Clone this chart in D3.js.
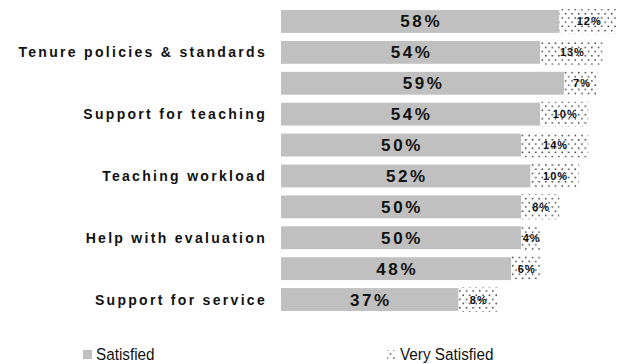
<!DOCTYPE html>
<html>
<head>
<meta charset="utf-8">
<script src="https://cdn.jsdelivr.net/npm/d3@7"></script>
<style>
  html, body { margin: 0; padding: 0; background: #fff; }
  svg { display: block; }
</style>
</head>
<body>
<svg id="chart" width="621" height="364"></svg>
<script>
// Satisfaction items; each item has two bars, the label sits beside the second one
const categories = [
  "Tenure policies & standards",
  "Support for teaching",
  "Teaching workload",
  "Help with evaluation",
  "Support for service"
];
const barsPerCategory = 2;

// Percent values, one per bar, top to bottom
const satisfied     = [58, 54, 59, 54, 50, 52, 50, 50, 48, 37];
const verySatisfied = [12, 13,  7, 10, 14, 10,  8,  4,  6,  8];

const seriesNames = ["Satisfied", "Very Satisfied"];

const rows = satisfied.map((s, i) => ({
  index: i,
  satisfied: s,
  very: verySatisfied[i],
  label: (i % barsPerCategory === barsPerCategory - 1) ? categories[Math.floor(i / barsPerCategory)] : null
}));

const svg = d3.select("#chart");
const grey = "#c0c0c0";
const font = "Liberation Sans, Arial, sans-serif";

// dotted fill used for the "Very Satisfied" series
const defs = svg.append("defs");
const pat = defs.append("pattern")
  .attr("id", "dots")
  .attr("patternUnits", "userSpaceOnUse")
  .attr("width", 6.6)
  .attr("height", 8.4);
pat.append("rect").attr("width", 6.6).attr("height", 8.4).attr("fill", "#fff");
pat.append("rect").attr("x", 0.5).attr("y", 0.5).attr("width", 1.4).attr("height", 1.4).attr("fill", "#222");
pat.append("rect").attr("x", 3.8).attr("y", 4.7).attr("width", 1.4).attr("height", 1.4).attr("fill", "#222");

const x = d3.scaleLinear().domain([0, 100]).range([281, 761]);
const y = d3.scaleBand()
  .domain(rows.map(d => d.index))
  .range([2, 319])
  .padding(0.26);

const g = svg.append("g");

// Satisfied segments
g.selectAll("rect.sat")
  .data(rows)
  .join("rect")
  .attr("class", "sat")
  .attr("x", x(0))
  .attr("y", d => y(d.index))
  .attr("width", d => x(d.satisfied) - x(0))
  .attr("height", y.bandwidth())
  .attr("fill", grey);

// Very Satisfied segments stacked after them
g.selectAll("rect.very")
  .data(rows)
  .join("rect")
  .attr("class", "very")
  .attr("x", d => x(d.satisfied))
  .attr("y", d => y(d.index) - 1)
  .attr("width", d => x(d.satisfied + d.very) - x(d.satisfied))
  .attr("height", y.bandwidth() + 2)
  .attr("fill", "url(#dots)");

// value labels
g.selectAll("text.satv")
  .data(rows)
  .join("text")
  .attr("class", "satv")
  .attr("x", d => (x(0) + x(d.satisfied)) / 2 + 1)
  .attr("y", d => y(d.index) + y.bandwidth() / 2 + 6)
  .attr("text-anchor", "middle")
  .attr("font-family", font)
  .attr("font-weight", "bold")
  .attr("font-size", 17)
  .attr("letter-spacing", 2.6)
  .attr("fill", "#111")
  .text(d => d.satisfied + "%");

g.selectAll("text.veryv")
  .data(rows)
  .join("text")
  .attr("class", "veryv")
  .attr("x", d => (x(d.satisfied) + x(d.satisfied + d.very)) / 2 + 1)
  .attr("y", d => y(d.index) + y.bandwidth() / 2 + 4)
  .attr("text-anchor", "middle")
  .attr("font-family", font)
  .attr("font-weight", "bold")
  .attr("font-size", 11)
  .attr("letter-spacing", 1)
  .attr("fill", "#111")
  .text(d => d.very + "%");

// category labels
g.selectAll("text.cat")
  .data(rows.filter(d => d.label))
  .join("text")
  .attr("class", "cat")
  .attr("x", 267)
  .attr("y", d => y(d.index) + y.bandwidth() / 2 + 5)
  .attr("text-anchor", "end")
  .attr("font-family", font)
  .attr("font-weight", "bold")
  .attr("font-size", 14)
  .attr("letter-spacing", 2.3)
  .attr("fill", "#111")
  .text(d => d.label);

// legend, set in a slightly condensed face
const legend = svg.append("g").attr("font-family", font);
const legendX = [83, 387];
const legendFill = [grey, "url(#dots)"];
seriesNames.forEach((name, i) => {
  legend.append("rect")
    .attr("x", legendX[i])
    .attr("y", 350)
    .attr("width", 9)
    .attr("height", 9)
    .attr("fill", legendFill[i]);
  legend.append("text")
    .attr("transform", `translate(${legendX[i] + 13},360) scale(0.9,1)`)
    .attr("font-size", 17)
    .attr("fill", "#111")
    .text(name);
});
</script>
</body>
</html>
